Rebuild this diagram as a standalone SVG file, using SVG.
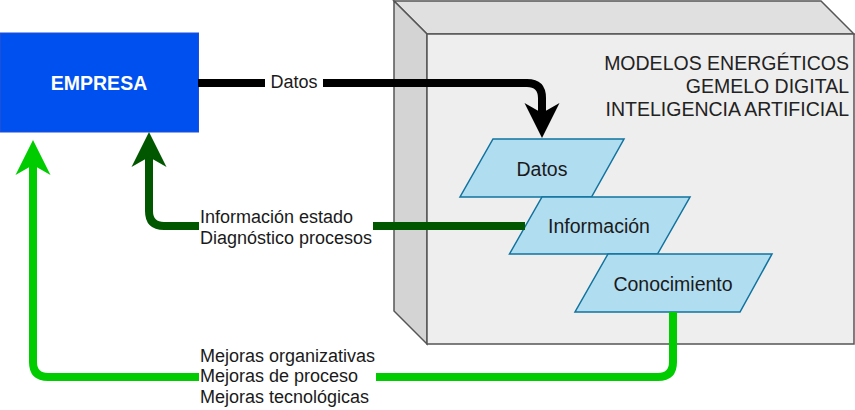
<svg xmlns="http://www.w3.org/2000/svg" width="855" height="410" viewBox="0 0 855 410">
<style>
.lbl{font-family:"Liberation Sans",Arial,sans-serif;font-size:18px;fill:#1a1a1a}
.hdr{font-family:"Liberation Sans",Arial,sans-serif;font-size:19.5px;fill:#222}
.pt{font-family:"Liberation Sans",Arial,sans-serif;font-size:19.5px;fill:#1a1a1a;text-anchor:middle}
.para{fill:#B1DDF0;stroke:#10739E;stroke-width:1.5}
.conn{fill:none;stroke-width:8}
</style>
<defs>
<marker id="mBlack" markerUnits="userSpaceOnUse" markerWidth="36" markerHeight="36" viewBox="0 -18 36 36" refX="11" refY="0" orient="auto" overflow="visible"><path d="M35,0 L0,-17.5 L10,0 L0,17.5 Z" fill="#000"/></marker>
<marker id="mDark" markerUnits="userSpaceOnUse" markerWidth="36" markerHeight="36" viewBox="0 -18 36 36" refX="11" refY="0" orient="auto" overflow="visible"><path d="M35,0 L0,-17.5 L10,0 L0,17.5 Z" fill="#005700"/></marker>
<marker id="mGreen" markerUnits="userSpaceOnUse" markerWidth="36" markerHeight="36" viewBox="0 -18 36 36" refX="11" refY="0" orient="auto" overflow="visible"><path d="M35,0 L0,-17.5 L10,0 L0,17.5 Z" fill="#00CC00"/></marker>
</defs>
<rect width="855" height="410" fill="#fff"/>
<g id="cube">
<path d="M394,1 H821 L854,34 H427 Z" fill="#E0E0E0" stroke="#555" stroke-width="1.5"/>
<path d="M394,1 L427,34 V344 L394,311 Z" fill="#D4D4D4" stroke="#555" stroke-width="1.5"/>
<rect x="427" y="34" width="427" height="310" fill="#EEEEEE" stroke="#555" stroke-width="1.5"/>
<text class="hdr" text-anchor="end"><tspan x="849" y="70">MODELOS ENERGÉTICOS</tspan><tspan x="849" y="93">GEMELO DIGITAL</tspan><tspan x="849" y="116">INTELIGENCIA ARTIFICIAL</tspan></text>
</g>
<g id="empresa">
<rect x="0.5" y="33" width="198" height="99" fill="#0050EF" stroke="#1E4FD8" stroke-width="1"/>
<text x="99" y="90" font-family="'Liberation Sans',Arial,sans-serif" font-size="19.5" font-weight="bold" fill="#fff" text-anchor="middle">EMPRESA</text>
</g>
<g id="datos">
<path class="para" d="M493,139 H624 L591.5,197 H460 Z"/>
<text class="pt" x="542" y="176">Datos</text>
</g>
<g id="informacion">
<path class="para" d="M542,197 H690 L657.5,254 H509.5 Z"/>
<text class="pt" x="599" y="233">Información</text>
</g>
<g id="conocimiento">
<path class="para" d="M608,254 H772 L740,312 H575 Z"/>
<text class="pt" x="673" y="291">Conocimiento</text>
</g>
<g id="connectors">
<path class="conn" stroke="#000" d="M198,83 H527 Q542,83 542,98 V114" marker-end="url(#mBlack)"/>
<path class="conn" stroke="#005700" d="M525,226 H164 Q149,226 149,211 V156" marker-end="url(#mDark)"/>
<path class="conn" stroke="#00CC00" d="M673,312 V362 Q673,377 658,377 H48 Q33,377 33,362 V164" marker-end="url(#mGreen)"/>
<rect x="265" y="72" width="58" height="22" fill="#fff"/>
<text class="lbl" x="294" y="88" text-anchor="middle">Datos</text>
<rect x="199" y="205" width="174" height="44" fill="#fff"/>
<text class="lbl"><tspan x="200" y="223">Información estado</tspan><tspan x="200" y="244">Diagnóstico procesos</tspan></text>
<rect x="199" y="344" width="177" height="66" fill="#fff"/>
<text class="lbl"><tspan x="200" y="362">Mejoras organizativas</tspan><tspan x="200" y="382">Mejoras de proceso</tspan><tspan x="200" y="403">Mejoras tecnológicas</tspan></text>
</g>
</svg>
